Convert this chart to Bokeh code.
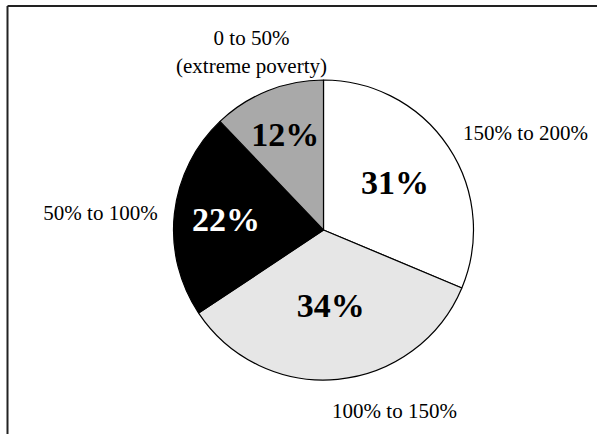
import math
from bokeh.plotting import figure
from bokeh.models import ColumnDataSource, Range1d
from bokeh.core.properties import value
from bokeh.embed import file_html
from bokeh.resources import INLINE

# ---- data ----
categories = ["150% to 200%", "100% to 150%", "50% to 100%", "0 to 50%\n(extreme poverty)"]
shares = [31, 34, 22, 12]
pct_labels = ["31%", "34%", "22%", "12%"]

# ---- styles / layout ----
W, H = 597, 434
fill_colors = ["#ffffff", "#e6e6e6", "#000000", "#a9a9a9"]
pct_text_colors = ["#000000", "#000000", "#ffffff", "#000000"]
cx, cy, R = 323, H - 229.5, 150
inner_r = [86, 76, 98, 103]               # radius of percentage labels
outer_off = [(202, 97.5), (71, -180.5), (-223, 17.5), (-72, 178)]  # outer label offsets
serif = value("Liberation Serif")

total = sum(shares)
starts, ends, mids = [], [], []
cum = 0.0
for s in shares:
    a0 = math.pi / 2 - 2 * math.pi * cum / total
    cum += s
    a1 = math.pi / 2 - 2 * math.pi * cum / total
    starts.append(a1)
    ends.append(a0)
    mids.append((a0 + a1) / 2)

src = ColumnDataSource(dict(
    start=starts, end=ends, color=fill_colors, cat=categories,
    pct=pct_labels, tcol=pct_text_colors,
    px=[cx + r * math.cos(m) for r, m in zip(inner_r, mids)],
    py=[cy + r * math.sin(m) for r, m in zip(inner_r, mids)],
    ox=[cx + o[0] for o in outer_off],
    oy=[cy + o[1] for o in outer_off],
))

p = figure(width=W, height=H, x_range=Range1d(0, W), y_range=Range1d(0, H),
           output_backend="svg", toolbar_location=None, min_border=0)
p.axis.visible = False
p.grid.visible = False
p.outline_line_color = None
p.background_fill_color = "white"
p.border_fill_color = "white"

# frame (top and left edges)
p.segment(x0=[7, 7], y0=[H - 5.5, H - 5.5], x1=[W, 7], y1=[H - 5.5, 0],
          line_color="#222222", line_width=2)

p.wedge(x=cx, y=cy, radius=R, start_angle="start", end_angle="end",
        direction="anticlock", fill_color="color", line_color="black",
        line_width=1.2, source=src)

p.text(x="px", y="py", text="pct", text_color="tcol", text_font=serif,
       text_font_size="34px", text_font_style="bold", text_align="center",
       text_baseline="middle", source=src)

p.text(x="ox", y="oy", text="cat", text_color="black", text_font=serif,
       text_font_size="21px", text_align="center", text_baseline="middle",
       text_line_height=1.15, source=src)

open("out.html", "w").write(file_html(p, INLINE))
